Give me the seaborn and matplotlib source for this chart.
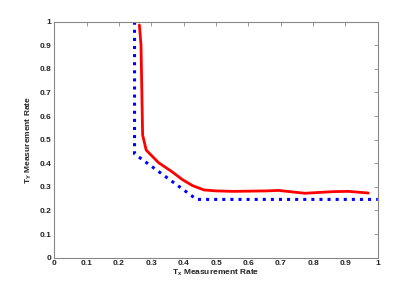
import numpy as np
import pandas as pd
import matplotlib
matplotlib.use("Agg")
import matplotlib.pyplot as plt
import seaborn as sns

# ==========================================================
# Data
# ==========================================================

red_x = [0.263, 0.268, 0.273, 0.284, 0.322, 0.363, 0.397, 0.428, 0.463,
         0.50, 0.554, 0.656, 0.693, 0.775, 0.863, 0.91, 0.971]
red_y = [0.986, 0.90, 0.52, 0.456, 0.403, 0.365, 0.33, 0.305, 0.287,
         0.283, 0.281, 0.283, 0.285, 0.273, 0.280, 0.281, 0.274]

blue_x = [0.248, 0.248, 0.44, 1.0]
blue_y = [1.0, 0.44, 0.247, 0.247]

ticks = [0, 0.1, 0.2, 0.3, 0.4, 0.5, 0.6, 0.7, 0.8, 0.9, 1]
tick_labels = ["0", "0.1", "0.2", "0.3", "0.4", "0.5", "0.6", "0.7", "0.8", "0.9", "1"]

# ==========================================================
# Plot
# ==========================================================

sns.set_style("white")
plt.rcParams["font.family"] = ["Liberation Sans", "DejaVu Sans"]

fig = plt.figure(figsize=(4.18, 2.9), dpi=100)
ax = fig.add_axes([0.130, 0.1114, 0.7736, 0.8138])

red = pd.DataFrame({"x": red_x, "y": red_y})
blue = pd.DataFrame({"x": blue_x, "y": blue_y})

# estimator=None keeps the vertical segment (repeated x) as drawn
sns.lineplot(data=red, x="x", y="y", sort=False, estimator=None,
             errorbar=None, color="red", linewidth=2.0, ax=ax)
sns.lineplot(data=blue, x="x", y="y", sort=False, estimator=None,
             errorbar=None, color="blue", linewidth=2.2, linestyle=":", ax=ax)

ax.set_xlim(0, 1)
ax.set_ylim(0, 1)
ax.set_xticks(ticks)
ax.set_yticks(ticks)
ax.set_xticklabels(tick_labels, fontsize=6, fontweight="bold")
ax.set_yticklabels(tick_labels, fontsize=6, fontweight="bold")
ax.tick_params(direction="in", length=3, width=0.6, color="#888888",
               top=True, right=True, pad=2)

for s in ax.spines.values():
    s.set_color("#888888")
    s.set_linewidth(0.8)

ax.set_xlabel(r"T$_\mathregular{x}$ Measurement Rate", fontsize=6,
              fontweight="bold", labelpad=0)
ax.set_ylabel(r"T$_\mathregular{Y}$ Measurement Rate", fontsize=6,
              fontweight="bold", labelpad=4)

fig.savefig("out.png", dpi=100)
